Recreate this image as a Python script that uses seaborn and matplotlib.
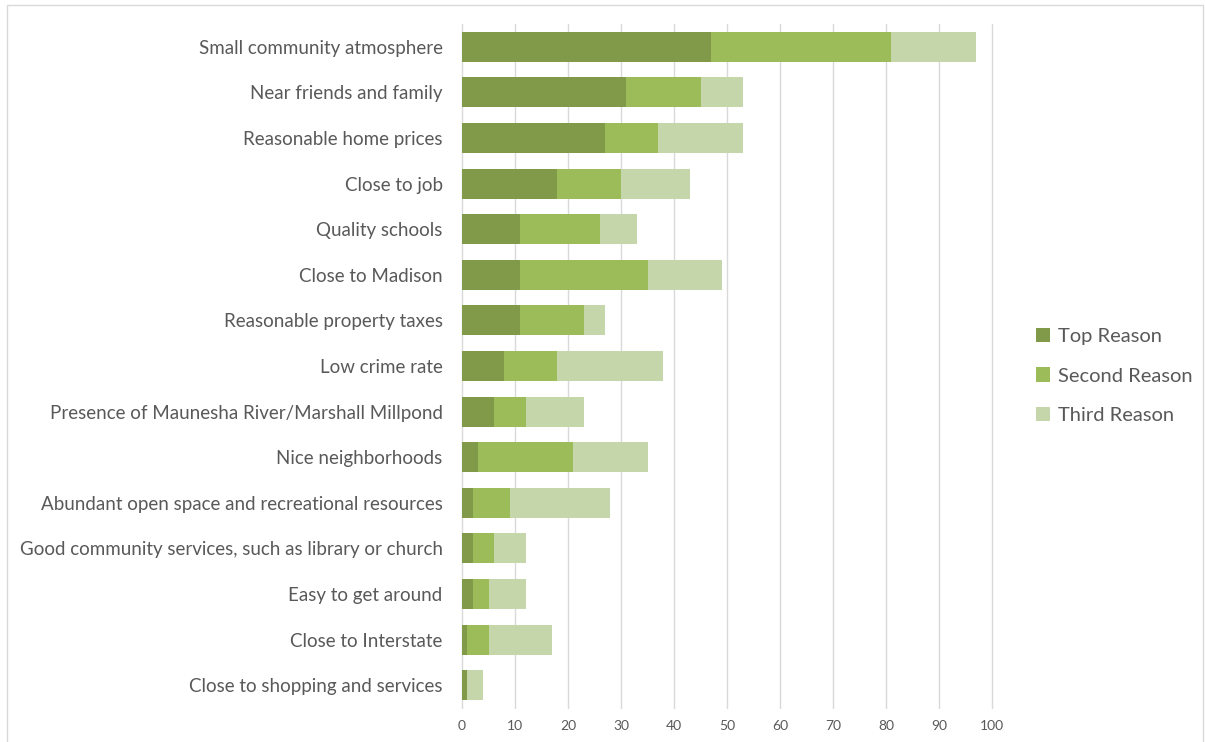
import matplotlib
matplotlib.use("Agg")
import matplotlib.pyplot as plt
import seaborn as sns
import pandas as pd
import numpy as np
from matplotlib.patches import Rectangle, Patch

categories = [
    "Small community atmosphere",
    "Near friends and family",
    "Reasonable home prices",
    "Close to job",
    "Quality schools",
    "Close to Madison",
    "Reasonable property taxes",
    "Low crime rate",
    "Presence of Maunesha River/Marshall Millpond",
    "Nice neighborhoods",
    "Abundant open space and recreational resources",
    "Good community services, such as library or church",
    "Easy to get around",
    "Close to Interstate",
    "Close to shopping and services",
]
top_reason = [47, 31, 27, 18, 11, 11, 11, 8, 6, 3, 2, 2, 2, 1, 1]
second_reason = [34, 14, 10, 12, 15, 24, 12, 10, 6, 18, 7, 4, 3, 4, 0]
third_reason = [16, 8, 16, 13, 7, 14, 4, 20, 11, 14, 19, 6, 7, 12, 3]
series_names = ["Top Reason", "Second Reason", "Third Reason"]
x_ticks = [0, 10, 20, 30, 40, 50, 60, 70, 80, 90, 100]

colors = ["#809A4A", "#9CBB59", "#C5D6AB"]

sns.set_theme(style="white")
plt.rcParams["font.family"] = ["Lato", "DejaVu Sans"]

df = pd.DataFrame({
    "category": categories,
    "top": top_reason,
    "second": second_reason,
    "third": third_reason,
})
df["c1"] = df["top"]
df["c2"] = df["top"] + df["second"]
df["c3"] = df["c2"] + df["third"]

W, H = 1205, 742
fig = plt.figure(figsize=(W / 100, H / 100), dpi=100)
ax = fig.add_axes([462 / W, 1 - 708 / H, (992 - 462) / W, (708 - 24) / H])

for col, c in zip(["c3", "c2", "c1"], colors[::-1]):
    sns.barplot(data=df, y="category", x=col, orient="h", color=c,
                width=0.66, ax=ax, saturation=1, linewidth=0, zorder=3)

ax.set_xlim(0, 100)
ax.set_ylim(14.5, -0.5)
ax.set_xticks(x_ticks)
ax.set_xticklabels([str(t) for t in x_ticks])
ax.set_xlabel("")
ax.set_ylabel("")
ax.grid(axis="x", color="#D9D9D9", linewidth=1.0, zorder=0)
ax.grid(axis="y", visible=False)
for gl in ax.get_xgridlines():
    gl.set_clip_on(False)
for s in ax.spines.values():
    s.set_visible(False)
ax.tick_params(axis="x", length=0, pad=9, labelsize=10, labelcolor="#595959")
ax.tick_params(axis="y", length=0, pad=14, labelsize=13.5, labelcolor="#595959")

handles = [Patch(facecolor=c, edgecolor="none") for c in colors]
fig.legend(handles, series_names, loc="center left",
           bbox_to_anchor=(1018 / W, 1 - 376 / H), frameon=False,
           fontsize=14.5, labelcolor="#595959", handlelength=0.7,
           handleheight=0.7, handletextpad=0.4, labelspacing=1.12)

fig.patches.append(Rectangle((7 / W, -0.01), (1203 - 7) / W, 1 - 5 / H + 0.01,
                             transform=fig.transFigure, fill=False,
                             edgecolor="#D9D9D9", linewidth=1.0))

fig.savefig("out.png", dpi=100)
